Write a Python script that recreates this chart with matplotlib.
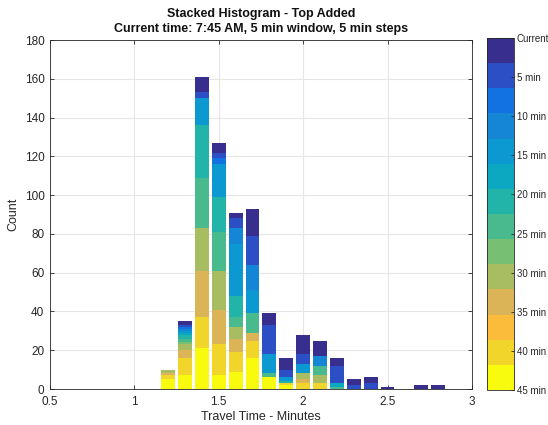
import numpy as np
import matplotlib
matplotlib.use("Agg")
import matplotlib.pyplot as plt
from matplotlib.colors import ListedColormap, Normalize
from matplotlib.cm import ScalarMappable

plt.rcParams['font.family'] = ['Liberation Sans', 'DejaVu Sans']

# histogram bin centres (minutes)
bin_centers = [1.2, 1.3, 1.4, 1.5, 1.6, 1.7, 1.8, 1.9, 2.0, 2.1, 2.2, 2.3, 2.4, 2.5, 2.6, 2.7, 2.8]

# counts per time slice, oldest slice (bottom of the stack) first
layer00 = [5, 7, 21, 7, 9, 16, 6, 2, 0, 0, 0, 0, 0, 0, 0, 0, 0]
layer01 = [2, 9, 16, 16, 10, 9, 0, 1, 3, 3, 0, 0, 0, 0, 0, 0, 0]
layer02 = [0, 0, 0, 0, 0, 0, 0, 0, 0, 0, 0, 0, 0, 0, 0, 0, 0]
layer03 = [1, 4, 24, 18, 7, 4, 0, 0, 2, 0, 0, 0, 0, 0, 0, 0, 0]
layer04 = [2, 3, 22, 20, 6, 0, 0, 0, 3, 4, 0, 0, 0, 0, 0, 0, 0]
layer05 = [0, 1, 0, 0, 0, 0, 0, 0, 0, 0, 0, 0, 0, 0, 0, 0, 0]
layer06 = [0, 2, 26, 20, 5, 10, 2, 0, 0, 5, 1, 0, 0, 0, 0, 0, 0]
layer07 = [0, 2, 27, 18, 11, 0, 0, 1, 0, 0, 0, 0, 0, 0, 0, 0, 0]
layer08 = [0, 1, 0, 0, 0, 0, 0, 0, 0, 0, 2, 0, 0, 0, 0, 0, 0]
layer09 = [0, 1, 14, 17, 27, 12, 10, 2, 5, 0, 0, 0, 0, 0, 0, 0, 0]
layer10 = [0, 1, 0, 0, 8, 13, 0, 0, 0, 5, 0, 0, 0, 0, 0, 0, 0]
layer11 = [0, 1, 0, 3, 0, 0, 0, 0, 0, 0, 0, 0, 0, 0, 0, 0, 0]
layer12 = [0, 1, 3, 3, 5, 15, 15, 4, 5, 0, 9, 2, 3, 0, 0, 0, 0]
layer13 = [0, 2, 8, 5, 3, 14, 6, 6, 10, 8, 4, 3, 3, 1, 0, 2, 2]

layers = [layer00, layer01, layer02, layer03, layer04, layer05, layer06,
          layer07, layer08, layer09, layer10, layer11, layer12, layer13]

# parula-like palette, yellow (oldest) to navy (current)
colors = ['#f9fb0e', '#f2d52b', '#fbbb3b', '#dbb458', '#a8bd62', '#76bf73', '#48ba8e',
          '#22b3a9', '#0ca8c2', '#0c98d0', '#1585d5', '#1272e1', '#2d4fc5', '#382e8d']

cbar_labels = ['45 min', '40 min', '35 min', '30 min', '25 min', '20 min',
               '15 min', '10 min', '5 min', 'Current']

fig = plt.figure(figsize=(5.48, 4.25), dpi=100)
ax = fig.add_axes([0.0912, 0.0847, 0.770, 0.821])

bottom = np.zeros(len(bin_centers))
for counts, c in zip(layers, colors):
    counts = np.array(counts, dtype=float)
    ax.bar(bin_centers, counts, width=0.082, bottom=bottom, color=c,
           edgecolor='none', zorder=3)
    bottom += counts

ax.set_xlim(0.5, 3)
ax.set_ylim(0, 180)
ax.set_xticks([0.5, 1, 1.5, 2, 2.5, 3])
ax.set_xticklabels(['0.5', '1', '1.5', '2', '2.5', '3'])
ax.set_yticks(np.arange(0, 181, 20))
ax.grid(True, color='#e6e6e6', linewidth=0.8, zorder=0)
ax.tick_params(direction='in', top=True, right=True, length=3,
               labelsize=8.5, colors='#262626', width=0.6)
ax.tick_params(axis='x', pad=5)
ax.tick_params(axis='y', pad=4)
for s in ax.spines.values():
    s.set_color('#262626')
    s.set_linewidth(0.6)

ax.set_xlabel('Travel Time - Minutes', fontsize=9, color='#262626', labelpad=2)
ax.set_ylabel('Count', fontsize=9, color='#262626', labelpad=4)
ax.set_title('Stacked Histogram - Top Added\nCurrent time: 7:45 AM, 5 min window, 5 min steps',
             fontsize=9, fontweight='bold', color='#111111', pad=6, linespacing=1.25)

# colour key for the time slices
cax = fig.add_axes([0.889, 0.0824, 0.049, 0.828])
cmap = ListedColormap(colors)
sm = ScalarMappable(norm=Normalize(0, len(colors)), cmap=cmap)
cb = fig.colorbar(sm, cax=cax)
cb.set_ticks(np.linspace(0, len(colors), len(cbar_labels)))
cb.set_ticklabels(cbar_labels)
cb.ax.tick_params(direction='in', length=2.5, labelsize=7, colors='#262626', pad=2, width=0.6)
cb.outline.set_edgecolor('#262626')
cb.outline.set_linewidth(0.6)

fig.savefig('out.png', dpi=100)
